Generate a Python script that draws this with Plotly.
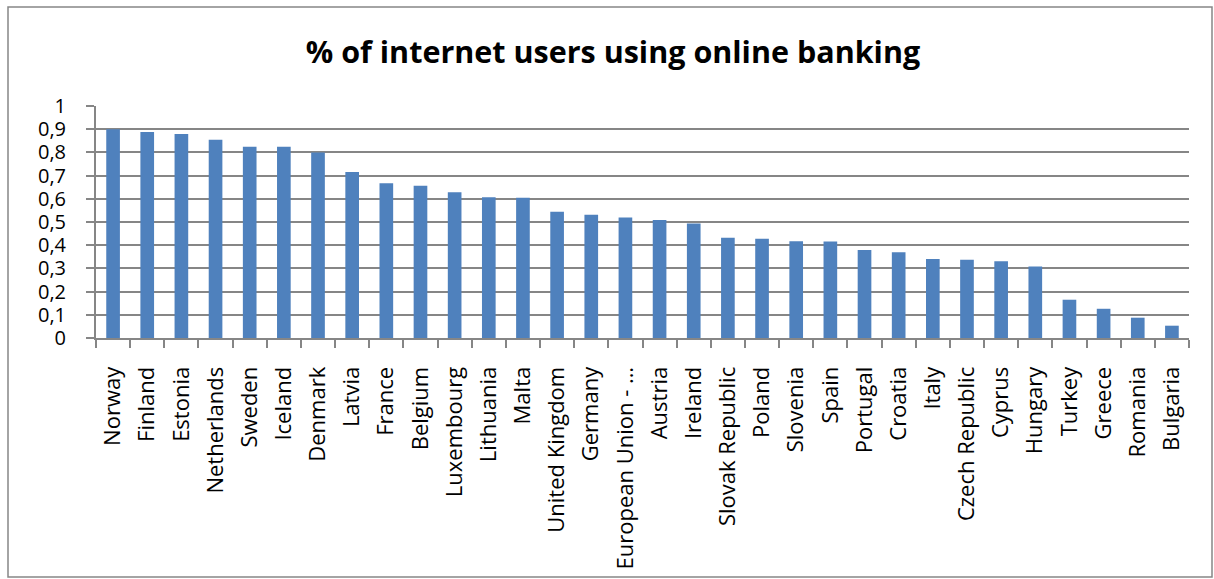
import plotly.graph_objects as go

countries = ["Norway", "Finland", "Estonia", "Netherlands", "Sweden", "Iceland", "Denmark",
             "Latvia", "France", "Belgium", "Luxembourg", "Lithuania", "Malta", "United Kingdom",
             "Germany", "European Union - …", "Austria", "Ireland", "Slovak Republic", "Poland",
             "Slovenia", "Spain", "Portugal", "Croatia", "Italy", "Czech Republic", "Cyprus",
             "Hungary", "Turkey", "Greece", "Romania", "Bulgaria"]
values = [0.90, 0.888, 0.879, 0.854, 0.824, 0.824, 0.80,
          0.716, 0.667, 0.656, 0.628, 0.607, 0.604, 0.544,
          0.531, 0.519, 0.509, 0.494, 0.432, 0.428,
          0.417, 0.416, 0.379, 0.370, 0.340, 0.337, 0.331,
          0.308, 0.165, 0.126, 0.0875, 0.053]
y_tickvals = [0, 0.1, 0.2, 0.3, 0.4, 0.5, 0.6, 0.7, 0.8, 0.9, 1.0]
y_ticktext = ["0", "0,1", "0,2", "0,3", "0,4", "0,5", "0,6", "0,7", "0,8", "0,9", "1"]

W, H = 1214, 579
ML, MR, MT, MB = 96, 25, 106, 241
pw, ph = W - ML - MR, H - MT - MB

font = "'Open Sans', sans-serif"

fig = go.Figure(go.Bar(x=countries, y=values, marker=dict(color="#4F81BD", line=dict(width=0))))

def px2paper_x(px):
    return (px - ML) / pw

def px2paper_y(py):
    return (H - MB - py) / ph

fig.update_layout(
    width=W, height=H,
    margin=dict(l=ML, r=MR, t=MT, b=MB, autoexpand=False),
    paper_bgcolor="white", plot_bgcolor="white",
    bargap=0.6,
    showlegend=False,
    title=dict(text="<b>% of internet users using online banking</b>", x=613 / W, xanchor="center",
               xref="container", y=1 - 52 / H, yanchor="middle",
               font=dict(family=font, size=30.5, color="black")),
    font=dict(family=font, color="black"),
    shapes=[dict(type="rect", xref="paper", yref="paper",
                 x0=px2paper_x(8), x1=px2paper_x(1212), y0=px2paper_y(577), y1=px2paper_y(7),
                 line=dict(color="#868686", width=1.5), fillcolor="rgba(0,0,0,0)", layer="below")],
)
fig.update_xaxes(type="category", tickangle=-90, tickfont=dict(size=22, family=font),
                 showline=True, linecolor="#868686", linewidth=2,
                 ticks="outside", tickson="boundaries", ticklen=8, tickcolor="#868686", tickwidth=2,
                 ticklabelstandoff=18,
                 showgrid=False)
fig.update_yaxes(range=[0, 1], tickvals=y_tickvals, ticktext=y_ticktext,
                 tickfont=dict(size=20, family=font),
                 showgrid=True, gridcolor="#868686", gridwidth=2,
                 showline=True, linecolor="#868686", linewidth=2,
                 ticks="outside", ticklen=8, tickcolor="#868686", tickwidth=2,
                 ticklabelstandoff=16,
                 zeroline=False)

fig.write_html("out.html")
